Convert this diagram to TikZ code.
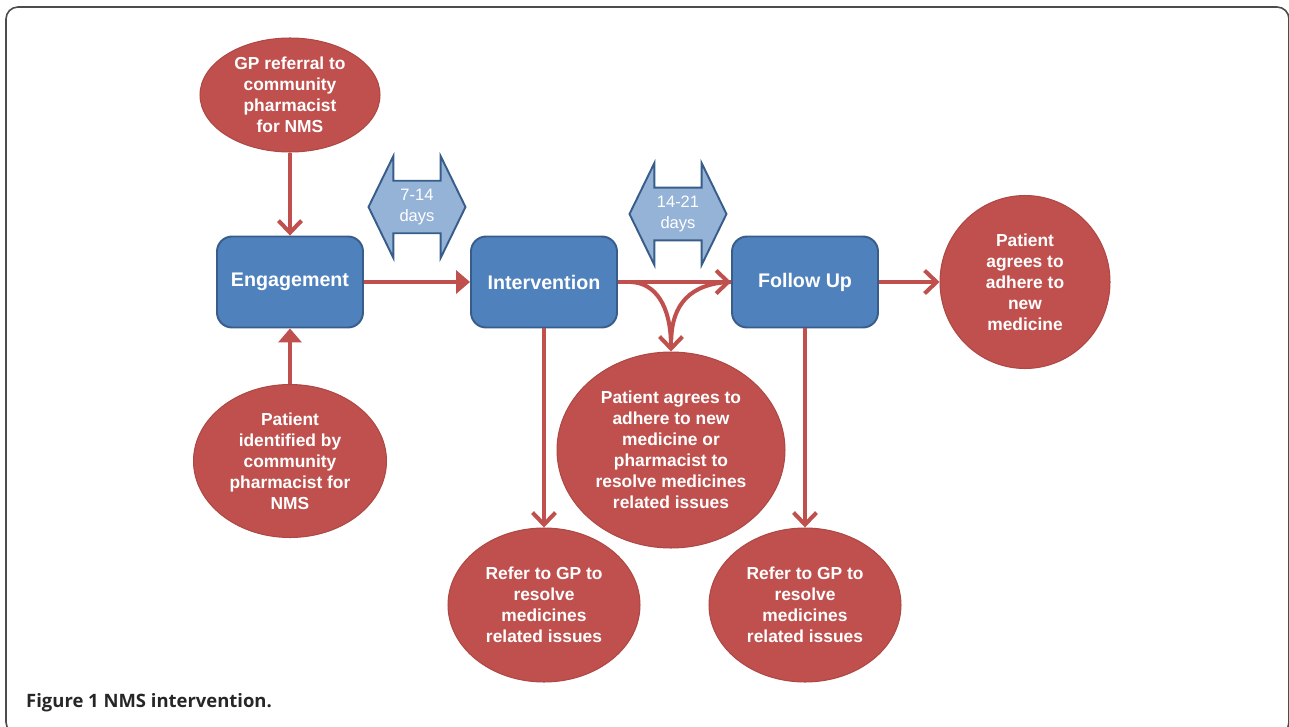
\documentclass[tikz,border=0pt]{standalone}
\usepackage{fontspec}
\setsansfont{Liberation Sans}
\newfontfamily\captionfont{Open Sans}
\usetikzlibrary{
	arrows.meta,
	positioning,
	shapes.geometric,
	shapes.arrows,
}
\definecolor{NmsRed}{HTML}{C0504D}
\definecolor{NmsBlue}{HTML}{4F81BD}
\definecolor{NmsBlueDark}{HTML}{385D8A}
\definecolor{NmsLightBlue}{HTML}{95B3D7}
\tikzset{every picture/.style={/utils/exec={\sffamily}}}

\begin{document}
\begin{tikzpicture} [
            x=0.02cm, y=-0.02cm,
            every node/.style={align=center},
            stage/.style={draw=NmsBlueDark,line width=1.1pt,fill=NmsBlue,rounded corners=0.3cm,minimum width=2.92cm,minimum height=1.82cm,text=white,font=\fontsize{11.2}{13}\selectfont\bfseries},
            bubble/.style={ellipse,draw=NmsRed!90!black,line width=0.6pt,fill=NmsRed,inner sep=0pt,text=white,font=\fontsize{9.9}{11.9}\selectfont\bfseries},
            days/.style={double arrow,draw=NmsBlueDark,line width=1.1pt,fill=NmsLightBlue,text=white,inner sep=0pt,minimum height=1.94cm,minimum width=2.04cm,double arrow head extend=0.36cm,double arrow tip angle=128,font=\fontsize{9.4}{12.2}\selectfont},
            flow/.style={draw=NmsRed,line width=2.3pt,-{Straight Barb[length=2.4mm,width=4.6mm]}},
            push/.style={draw=NmsRed,line width=2.3pt,-{Triangle[length=2.8mm,width=4.6mm]}}
        ]
        \useasboundingbox (0,0) rectangle (1289,727);
        \draw[draw=black!70,line width=0.9pt,rounded corners=0.24cm] (6,7) rectangle (1289,734);

        % stages
        \node at (290,282) [stage] (engage) {Engagement};
        \node at (544,282) [stage] (interv) {Intervention};
        \node at (805,282) [stage] (follow) {Follow Up};

        % time spans
        \node at (417,207) [days] (span1) {7-14\\days};
        \node at (678,214) [days] (span2) {14-21\\days};

        % routes in and out
        \node at (290,95) [bubble,minimum width=3.6cm,minimum height=2.28cm] (gpref) {GP referral to\\community\\pharmacist\\for NMS};
        \node at (290,461) [bubble,minimum width=3.86cm,minimum height=3.06cm] (pharmid) {Patient\\identified by\\community\\pharmacist for\\NMS};
        \node at (671,450) [bubble,minimum width=4.56cm,minimum height=3.92cm] (agree) {Patient agrees to\\adhere to new\\medicine or\\pharmacist to\\resolve medicines\\related issues};
        \node at (1025,282) [bubble,minimum width=3.4cm,minimum height=3.46cm] (adhere) {Patient\\agrees to\\adhere to\\new\\medicine};
        \node at (544,605) [bubble,minimum width=3.84cm,minimum height=3.08cm] (refer1) {Refer to GP to\\resolve\\medicines\\related issues};
        \node at (805,605) [bubble,minimum width=3.84cm,minimum height=3.08cm] (refer2) {Refer to GP to\\resolve\\medicines\\related issues};

        \draw[flow] (gpref) -- (engage);
        \draw[push] (pharmid) -- (engage);
        \draw[push] (engage) -- (interv);
        \draw[flow] (interv.east) -- (follow.west);
        \coordinate[right=0.26cm of interv.east] (split);
        \draw[flow] (split) .. controls (655,283) and (671,305) .. (agree.north);
        \draw[draw=NmsRed,line width=2.3pt,shorten <=0.24cm] (agree.north) .. controls (672,305) and (690,283) .. (follow.west);
        \draw[flow] (interv) -- (refer1);
        \draw[flow] (follow) -- (refer2);
        \draw[flow] (follow) -- (adhere);

        \node[anchor=west,font=\captionfont\fontsize{10.5}{12}\selectfont\bfseries,text=black!85] at (20,703) (caption) {Figure 1 NMS intervention.};
    \end{tikzpicture}
\end{document}
